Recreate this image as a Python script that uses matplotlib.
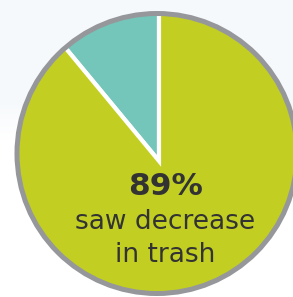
import numpy as np
import matplotlib.pyplot as plt
from matplotlib.patches import Circle

# pie data
labels = ['no decrease', 'saw decrease in trash']
shares = [11, 89]
colors = ['#73c6b9', '#c2cf22']

big_number = '89%'
caption = ['saw decrease', 'in trash']

W, H = 293, 297
fig = plt.figure(figsize=(W / 100, H / 100), dpi=100)
fig.patch.set_facecolor('white')
ax = fig.add_axes([0, 0, 1, 1])
ax.set_xlim(0, W)
ax.set_ylim(0, H)

# faint tint at the top fading out to white
rows = np.linspace(0, 1, H)
fade = np.clip((rows - 0.53) / 0.12, 0, 1)
tint = np.array([0.968, 0.980, 0.988])
img = np.ones((H, 1, 3)) * (1 - fade[:, None, None]) + tint * fade[:, None, None]
ax.imshow(img, extent=(0, W, 0, H), aspect='auto', origin='lower', zorder=0)

cx, cy = 157, H - 153.5
r_out = 142.5
ring = 5

# wedges meet slightly below the circle's centre, so draw them large and clip
wedges, _ = ax.pie(shares, colors=colors, startangle=90, counterclock=True,
                   center=(159, H - 161), radius=r_out + 20,
                   wedgeprops={'edgecolor': 'white', 'linewidth': 3.0})
clip = Circle((cx, cy), r_out - 1, facecolor='none', edgecolor='none')
ax.add_patch(clip)
for w in wedges:
    w.set_clip_on(True)
    w.set_clip_path(clip)

# grey outline
ax.add_patch(Circle((cx, cy), r_out - ring / 2, facecolor='none',
                    edgecolor='#96979b', linewidth=ring * 0.72, zorder=5))

ax.text(166, H - 195, big_number, ha='center', va='baseline',
        fontsize=22.5, fontweight='bold', family='DejaVu Sans', color='#333333', zorder=6)
ax.text(165, H - 229, caption[0], ha='center', va='baseline',
        fontsize=19, family='DejaVu Sans', color='#333333', zorder=6)
ax.text(165, H - 262, caption[1], ha='center', va='baseline',
        fontsize=19, family='DejaVu Sans', color='#333333', zorder=6)

ax.set_xlim(0, W)
ax.set_ylim(0, H)
ax.set_aspect('auto')
ax.axis('off')

fig.savefig('out.png', dpi=100)
